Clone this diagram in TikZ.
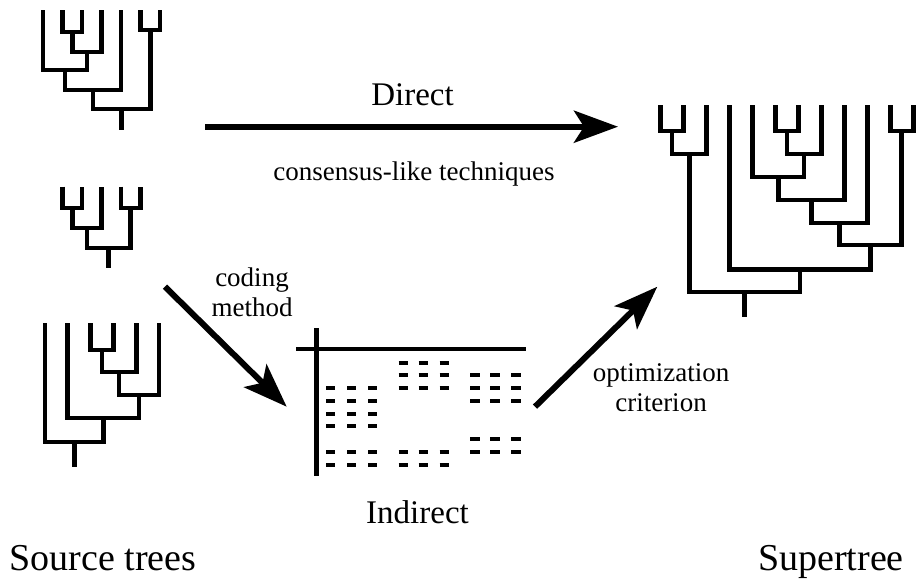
\documentclass[tikz,border=0pt]{standalone}
\usepackage{fontspec}
\setmainfont{Liberation Serif}
\usetikzlibrary{arrows.meta}

\begin{document}
\begin{tikzpicture}[
        x=0.5pt, y=-0.5pt,
        branch/.style={line width=2.35pt, line join=miter},
        cell/.style={line width=2pt},
        flow/.style={line width=3pt, -{Stealth[length=22pt, width=16pt, inset=5pt]}},
        big_label/.style={font=\fontsize{19}{22}\selectfont, anchor=base, inner sep=0pt},
        method_label/.style={font=\fontsize{16.5}{19}\selectfont, anchor=base, inner sep=0pt},
        edge_label/.style={font=\fontsize{13.5}{15}\selectfont, align=center, inner sep=0pt}
    ]
        \useasboundingbox (0,0) rectangle (921,579);

        % Source tree 1: seven leaves
        \draw[branch] (62.5,10) |- (82,32) -- (82,10)
                      (72.25,32) |- (101.5,52) -- (101.5,10)
                      (86.9,52) |- (43,70) -- (43,10)
                      (65,70) |- (121,90) -- (121,10)
                      (140.5,10) |- (160,30) -- (160,10)
                      (93,90) |- (150.25,109) -- (150.25,30)
                      (121.6,109) -- (121.6,130);

        % Source tree 2: five leaves
        \draw[branch] (62.5,186.5) |- (82,208) -- (82,186.5)
                      (72.25,208) |- (101.5,228) -- (101.5,186.5)
                      (121,186.5) |- (140.5,208) -- (140.5,186.5)
                      (86.9,228) |- (130.75,248) -- (130.75,208)
                      (108.8,248) -- (108.8,268);

        % Source tree 3: six leaves, a caterpillar
        \draw[branch] (90.6,323) |- (113.4,350) -- (113.4,323)
                      (102,350) |- (136.2,372) -- (136.2,323)
                      (119.1,372) |- (159,395) -- (159,323)
                      (139,395) |- (67.8,418) -- (67.8,323)
                      (103.4,418) |- (45,442) -- (45,323)
                      (74.2,442) -- (74.2,467);

        % Supertree: twelve leaves
        \draw[branch] (660.5,105) |- (683.5,131) -- (683.5,105)
                      (672,131) |- (706.4,154) -- (706.4,105)
                      (775.4,105) |- (798.3,131) -- (798.3,105)
                      (786.9,131) |- (821.3,154) -- (821.3,105)
                      (804.1,154) |- (752.4,177) -- (752.4,105)
                      (778.3,177) |- (844.3,200) -- (844.3,105)
                      (811.3,200) |- (867.2,223) -- (867.2,105)
                      (890.2,105) |- (913.2,131) -- (913.2,105)
                      (839.3,223) |- (901.7,245) -- (901.7,131)
                      (870.5,245) |- (729.4,269.5) -- (729.4,105)
                      (800,269.5) |- (689.2,292) -- (689.2,154)
                      (744.6,292) -- (744.6,317);

        % Matrix representation: axes and cells
        \draw[branch] (316.7,328) -- (316.7,476);
        \draw[branch] (296,349) -- (526,349);
        \foreach \x in {330.7,351.7,372.7}
            \foreach \y in {388.2,400.95,413.7,426.45,451.95,464.7}
                \draw[cell] (\x-4.65,\y) -- (\x+4.65,\y);
        \foreach \x in {403.3,423.3,444.3}
            \foreach \y in {362.7,375.45,388.2,451.95,464.7}
                \draw[cell] (\x-4.65,\y) -- (\x+4.65,\y);
        \foreach \x in {475,495,516}
            \foreach \y in {375.45,388.2,400.95,439.2,451.95}
                \draw[cell] (\x-4.65,\y) -- (\x+4.65,\y);

        % Arrows
        \coordinate (direct_start) at (205,126.7);
        \coordinate (direct_end) at (618,126.7);
        \coordinate (coding_start) at (165,286.7);
        \coordinate (coding_end) at (286.7,406.7);
        \coordinate (optim_start) at (535,406.7);
        \coordinate (optim_end) at (657.3,286.7);
        \draw[flow] (direct_start) -- (direct_end);
        \draw[flow] (coding_start) -- (coding_end);
        \draw[flow] (optim_start) -- (optim_end);

        % Labels
        \node[method_label] (direct_label) at (412.5,105) {Direct};
        \node[edge_label, anchor=base] (consensus_label) at (414,180) {consensus-like techniques};
        \node[edge_label] (coding_label) at (252,292.5) {coding\\method};
        \node[edge_label] (optim_label) at (661,388) {optimization\\criterion};
        \node[method_label] (indirect_label) at (417.5,523) {Indirect};
        \node[big_label] (source_label) at (103,570.7) {Source trees};
        \node[big_label] (super_label) at (831,570.7) {Supertree};

    \end{tikzpicture}
\end{document}
